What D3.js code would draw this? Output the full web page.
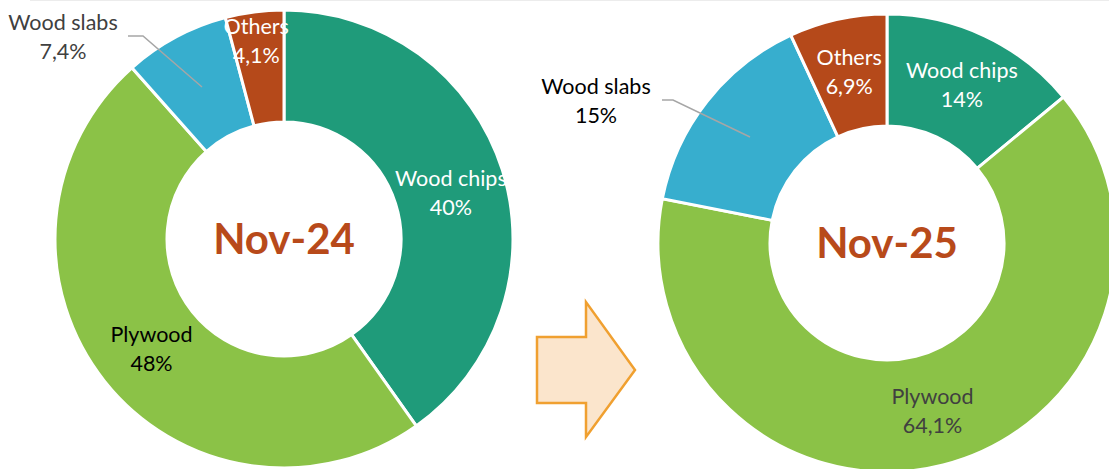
<!DOCTYPE html>
<html>
<head>
<meta charset="utf-8">
<script src="https://cdn.jsdelivr.net/npm/d3@7"></script>
<style>
  html, body { margin: 0; padding: 0; background: #fff; }
  svg { display: block; }
  text { font-family: Lato, "Open Sans", sans-serif; }
</style>
</head>
<body>
<svg id="chart" width="1109" height="469"></svg>
<script>
// ---- data ----
const categories = ["Wood chips", "Plywood", "Wood slabs", "Others"];
const nov24Values = [40, 48, 7.4, 4.1];
const nov25Values = [14, 64.1, 15, 6.9];
const nov24Labels = ["40%", "48%", "7,4%", "4,1%"];
const nov25Labels = ["14%", "64,1%", "15%", "6,9%"];
const chartTitles = ["Nov-24", "Nov-25"];
const colors = ["#1F9B7A", "#8BC247", "#37AECE", "#B5491A"];

// ---- layout ----
const svg = d3.select("#chart");
svg.append("line").attr("x1", 30).attr("x2", 1109).attr("y1", 0.5).attr("y2", 0.5)
  .attr("stroke", "#ececec").attr("stroke-width", 1);

const color = d3.scaleOrdinal().domain(categories).range(colors);
const pie = d3.pie().sort(null).value(d => d.value);

const charts = [
  { cx: 284, cy: 239, title: chartTitles[0], values: nov24Values, labels: nov24Labels,
    labelStyle: {
      "Wood chips": { fill: "#fff", shift: [2, 6] },
      "Plywood": { fill: "#000", shift: [3, 2] },
      "Wood slabs": { fill: "#404040", outside: [63, 22], leader: [[128, 36], [143, 36], [202, 87]] },
      "Others": { fill: "#fff", radius: 200, shift: [-2, 0] }
    } },
  { cx: 887, cy: 243, title: chartTitles[1], values: nov25Values, labels: nov25Labels,
    labelStyle: {
      "Wood chips": { fill: "#fff", radius: 176, shift: [0, 1] },
      "Plywood": { fill: "#404040", shift: [3, 0] },
      "Wood slabs": { fill: "#000", outside: [596, 86], leader: [[662, 100], [673, 100], [750, 137]] },
      "Others": { fill: "#fff", radius: 176, shift: [0, 1] }
    } }
];

const outerR = 229, innerR = 117;
const arc = d3.arc().innerRadius(innerR).outerRadius(outerR);
const lineGap = 29;
const fs = 21.5;

charts.forEach(c => {
  const data = categories.map((k, i) => ({ key: k, value: c.values[i], label: c.labels[i] }));
  const g = svg.append("g").attr("transform", `translate(${c.cx},${c.cy})`);
  const arcs = pie(data);
  g.selectAll("path").data(arcs).join("path")
    .attr("d", arc)
    .attr("fill", d => color(d.data.key))
    .attr("stroke", "#fff").attr("stroke-width", 3).attr("stroke-linejoin", "miter");

  g.append("text").attr("x", 0).attr("y", 0).attr("dy", "0.36em")
    .attr("text-anchor", "middle").attr("font-weight", 700).attr("font-size", 42)
    .attr("fill", "#B84A1A").text(c.title);

  arcs.forEach(a => {
    const st = c.labelStyle[a.data.key];
    let x, y;
    if (st.outside) {
      x = st.outside[0]; y = st.outside[1];
      svg.append("polyline")
        .attr("points", st.leader.map(p => p.join(",")).join(" "))
        .attr("fill", "none").attr("stroke", "#A6A6A6").attr("stroke-width", 1.5);
      svg.append("text").attr("x", x).attr("y", y).attr("dy", "0.35em")
        .attr("text-anchor", "middle").attr("font-size", fs).attr("fill", st.fill)
        .text(a.data.key);
      svg.append("text").attr("x", x).attr("y", y + lineGap).attr("dy", "0.35em")
        .attr("text-anchor", "middle").attr("font-size", fs).attr("fill", st.fill)
        .text(a.data.label);
    } else {
      const r = st.radius || (innerR + outerR) / 2;
      const la = d3.arc().innerRadius(r).outerRadius(r);
      let [px, py] = la.centroid(a);
      const sh = st.shift || [0, 0];
      px += sh[0]; py += sh[1];
      g.append("text").attr("x", px).attr("y", py - lineGap / 2).attr("dy", "0.35em")
        .attr("text-anchor", "middle").attr("font-size", fs).attr("fill", st.fill)
        .text(a.data.key);
      g.append("text").attr("x", px).attr("y", py + lineGap / 2).attr("dy", "0.35em")
        .attr("text-anchor", "middle").attr("font-size", fs).attr("fill", st.fill)
        .text(a.data.label);
    }
  });
});

// ---- arrow ----
const arrowPts = [[537, 337], [586, 337], [586, 302], [635, 370], [586, 437], [586, 403], [537, 403]];
svg.append("polygon")
  .attr("points", arrowPts.map(p => p.join(",")).join(" "))
  .attr("fill", "#FBE5CC").attr("stroke", "#F0A030").attr("stroke-width", 2.5)
  .attr("stroke-linejoin", "miter");
</script>
</body>
</html>
